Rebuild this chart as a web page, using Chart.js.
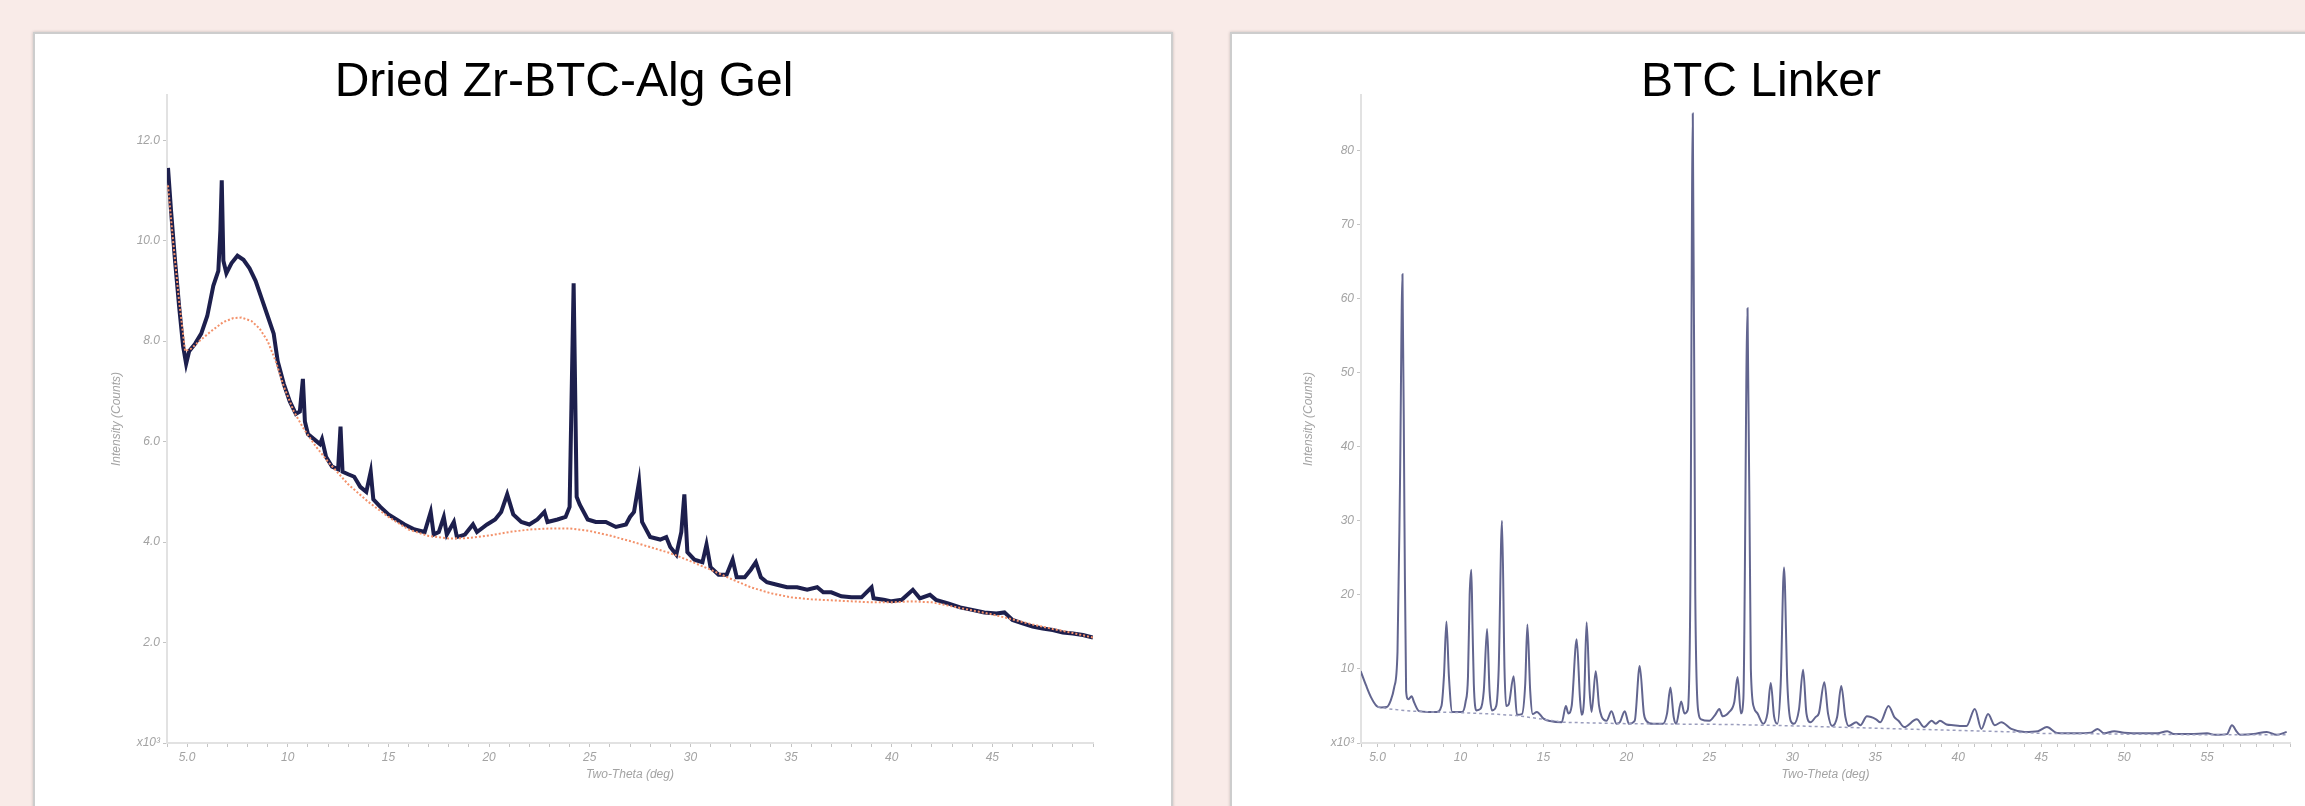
<!DOCTYPE html>
<html>
<head>
<meta charset="utf-8">
<script src="https://cdn.jsdelivr.net/npm/chart.js@4.4.1/dist/chart.umd.min.js"></script>
<style>
  html, body { margin: 0; padding: 0; }
  body { width: 2305px; height: 806px; overflow: hidden; background: #f9ebe8; position: relative; font-family: "Liberation Sans", Arial, sans-serif; }
  .panel { position: absolute; top: 32px; width: 1136px; height: 800px; background: #fff; border: 2px solid #cdcdcd; box-shadow: 0 0 3px rgba(0,0,0,0.2); }
  #leftPanel { left: 33px; }
  #rightPanel { left: 1230px; }
  canvas { display: block; }
</style>
</head>
<body>
<div class="panel" id="leftPanel"><canvas id="gelChart" width="1136" height="800"></canvas></div>
<div class="panel" id="rightPanel"><canvas id="linkerChart" width="1136" height="800"></canvas></div>
<script>
// Dried Zr-BTC-Alg Gel, measured pattern (two-theta in deg, counts in x10^3)
var gelTheta = [4.05, 4.2, 4.4, 4.6, 4.8, 4.95, 5.1, 5.4, 5.7, 6.0, 6.3, 6.55, 6.65, 6.72, 6.8, 6.95, 7.2, 7.5, 7.8, 8.1,
    8.4, 8.7, 9.0, 9.3, 9.5, 9.8, 10.1, 10.4, 10.6, 10.75, 10.85, 11.0, 11.3, 11.6, 11.7, 11.9, 12.2, 12.5, 12.62, 12.72,
    13.0, 13.3, 13.6, 13.9, 14.12, 14.25, 14.6, 15.0, 15.4, 15.8, 16.3, 16.8, 17.1, 17.25, 17.5, 17.75, 17.9, 18.25, 18.4, 18.8,
    19.2, 19.4, 19.9, 20.3, 20.6, 20.9, 21.2, 21.6, 22.0, 22.4, 22.75, 22.9, 23.4, 23.8, 24.0, 24.2, 24.35, 24.5, 24.9, 25.3,
    25.8, 26.3, 26.8, 27.0, 27.2, 27.45, 27.6, 28.0, 28.5, 28.8, 29.0, 29.3, 29.55, 29.7, 29.85, 30.2, 30.6, 30.8, 31.0, 31.4,
    31.8, 32.1, 32.3, 32.7, 33.0, 33.25, 33.5, 33.8, 34.3, 34.8, 35.3, 35.8, 36.3, 36.6, 37.0, 37.5, 38.0, 38.5, 39.0, 39.1,
    39.6, 40.0, 40.5, 41.05, 41.4, 41.9, 42.2, 42.8, 43.4, 44.0, 44.6, 45.2, 45.6, 46.0, 46.5, 47.0, 47.5, 48.0, 48.5, 49.0,
    49.5, 50.0];
var gelCounts = [11.45, 10.6, 9.6, 8.7, 7.9, 7.55, 7.8, 7.95, 8.15, 8.5, 9.1, 9.4, 10.2, 11.2, 9.6, 9.35, 9.55, 9.7, 9.62, 9.45,
    9.2, 8.85, 8.5, 8.15, 7.6, 7.15, 6.8, 6.55, 6.6, 7.25, 6.4, 6.15, 6.05, 5.95, 6.05, 5.7, 5.5, 5.45, 6.3, 5.4,
    5.35, 5.3, 5.1, 5.0, 5.4, 4.85, 4.7, 4.55, 4.45, 4.35, 4.25, 4.2, 4.6, 4.15, 4.2, 4.5, 4.15, 4.4, 4.1, 4.15,
    4.35, 4.2, 4.35, 4.45, 4.6, 4.95, 4.55, 4.4, 4.35, 4.45, 4.6, 4.4, 4.45, 4.5, 4.7, 9.15, 4.9, 4.75, 4.45, 4.4,
    4.4, 4.3, 4.35, 4.5, 4.6, 5.2, 4.4, 4.1, 4.05, 4.1, 3.9, 3.75, 4.2, 4.95, 3.8, 3.65, 3.6, 3.95, 3.5, 3.35,
    3.35, 3.65, 3.3, 3.3, 3.45, 3.6, 3.3, 3.2, 3.15, 3.1, 3.1, 3.05, 3.1, 3.0, 3.0, 2.92, 2.9, 2.9, 3.1, 2.88,
    2.85, 2.82, 2.85, 3.05, 2.88, 2.95, 2.85, 2.78, 2.7, 2.65, 2.6, 2.58, 2.6, 2.45, 2.38, 2.32, 2.28, 2.25, 2.2, 2.18,
    2.15, 2.1];
// Gel background (orange dotted)
var gelBgTheta = [4.05, 4.3, 4.6, 4.9, 5.2, 5.6, 6.2, 6.8, 7.3, 7.7, 8.2, 8.6, 9.0, 9.4, 9.8, 10.3, 10.8, 11.4, 12.0, 13.0,
    14.0, 15.0, 16.0, 17.0, 18.0, 19.0, 20.0, 21.0, 22.0, 23.0, 24.0, 25.0, 26.0, 27.0, 28.0, 29.0, 30.0, 31.0, 32.0, 33.0,
    34.0, 35.0, 36.0, 37.0, 38.0, 39.0, 40.0, 41.0, 42.0, 43.0, 44.0, 45.0, 46.0, 47.0, 48.0, 49.0, 50.0];
var gelBgCounts = [11.1, 10.0, 8.8, 7.8, 7.85, 8.0, 8.2, 8.38, 8.46, 8.47, 8.4, 8.25, 8.0, 7.6, 7.1, 6.6, 6.25, 5.9, 5.6, 5.15,
    4.8, 4.5, 4.25, 4.12, 4.07, 4.08, 4.13, 4.2, 4.25, 4.27, 4.27, 4.22, 4.13, 4.02, 3.9, 3.78, 3.62, 3.45, 3.27, 3.1,
    2.98, 2.9, 2.86, 2.84, 2.82, 2.8, 2.8, 2.82, 2.8, 2.72, 2.64, 2.56, 2.46, 2.36, 2.27, 2.19, 2.1];

// BTC Linker, measured pattern
var linkerTheta = [3.98, 4.3, 4.6, 4.94, 5.2, 5.54, 5.8, 6.0, 6.2, 6.35, 6.5, 6.62, 6.72, 6.85, 7.05, 7.2, 7.5, 8.0, 8.55, 8.85,
    9.0, 9.15, 9.3, 9.5, 10.1, 10.3, 10.45, 10.55, 10.65, 10.72, 10.8, 10.95, 11.2, 11.4, 11.6, 11.75, 11.9, 12.15, 12.3, 12.5,
    12.65, 12.75, 12.9, 13.2, 13.4, 13.7, 13.9, 14.03, 14.2, 14.35, 14.6, 15.0, 15.4, 16.1, 16.35, 16.5, 16.7, 17.0, 17.2, 17.3,
    17.45, 17.6, 17.78, 17.9, 18.15, 18.35, 18.5, 18.8, 19.1, 19.4, 19.6, 19.9, 20.15, 20.5, 20.8, 21.05, 21.2, 21.6, 22.2, 22.45,
    22.65, 22.85, 23.0, 23.3, 23.5, 23.7, 23.85, 24.0, 24.15, 24.35, 24.5, 25.0, 25.35, 25.6, 25.8, 26.2, 26.5, 26.7, 26.9, 27.05,
    27.3, 27.5, 27.7, 27.9, 28.25, 28.5, 28.7, 28.9, 29.1, 29.3, 29.5, 29.7, 29.9, 30.1, 30.4, 30.65, 30.85, 31.1, 31.4, 31.6,
    31.93, 32.15, 32.4, 32.7, 32.95, 33.2, 33.4, 33.85, 34.1, 34.5, 35.05, 35.3, 35.8, 36.15, 36.4, 36.75, 37.5, 37.95, 38.4, 38.65,
    38.9, 39.3, 39.7, 40.1, 40.5, 41.0, 41.4, 41.8, 42.2, 42.6, 43.2, 44.0, 44.8, 45.35, 45.95, 47.0, 48.0, 48.4, 48.8, 49.4,
    50.0, 51.0, 52.0, 52.6, 53.0, 54.0, 55.0, 55.5, 56.2, 56.5, 56.8, 57.0, 57.8, 58.6, 59.2, 59.8];
var linkerCounts = [9.7, 7.8, 6.2, 5.0, 4.8, 4.85, 5.8, 7.5, 12.3, 35, 63.3, 30, 7.0, 5.9, 6.3, 5.5, 4.3, 4.2, 4.2, 5.0,
    9.0, 16.4, 9.0, 4.2, 4.2, 5.5, 9.0, 20.0, 23.4, 16.0, 8.0, 4.4, 4.6, 7.0, 15.4, 7.0, 4.4, 5.0, 10.0, 30.0,
    10.0, 5.0, 5.2, 9.0, 3.8, 3.9, 8.0, 16.0, 7.0, 3.9, 4.2, 3.3, 2.96, 2.8, 5.0, 4.0, 5.0, 14.0, 6.0, 3.8,
    6.0, 16.3, 7.0, 4.2, 9.7, 5.0, 3.6, 3.0, 4.3, 2.6, 2.8, 4.3, 2.6, 3.0, 10.4, 4.0, 3.0, 2.6, 2.6, 4.0,
    7.5, 3.5, 2.6, 5.6, 4.0, 4.5, 20, 85.0, 20, 4.0, 3.2, 3.0, 3.8, 4.6, 3.6, 4.2, 5.5, 8.9, 4.0, 6,
    58.7, 10, 4.7, 4.0, 2.6, 4.0, 8.1, 3.6, 2.6, 8, 23.7, 8, 3.0, 2.6, 4.5, 9.9, 4.0, 2.8, 3.5, 4.0,
    8.2, 4.0, 2.3, 3.5, 7.7, 3.5, 2.3, 2.8, 2.4, 3.6, 3.2, 2.8, 5.0, 3.5, 3.0, 2.15, 3.2, 2.15, 3.0, 2.6,
    3.0, 2.5, 2.4, 2.3, 2.3, 4.6, 1.9, 3.9, 2.4, 2.8, 1.9, 1.5, 1.6, 2.15, 1.35, 1.3, 1.4, 1.9, 1.3, 1.6,
    1.4, 1.3, 1.3, 1.6, 1.2, 1.2, 1.3, 1.1, 1.2, 2.4, 1.5, 1.1, 1.2, 1.5, 1.1, 1.5];
// Linker background (dashed)
var linkerBgTheta = [5.0, 5.7, 7.0, 8.2, 10.0, 12.0, 13.4, 15.0, 16.2, 18.0, 20.2, 26.3, 30.3, 35.0, 40.0, 43.2, 45.0, 50.0, 55.0, 59.8];
var linkerBgCounts = [4.9, 4.6, 4.3, 4.2, 4.1, 3.9, 3.7, 3.2, 2.8, 2.7, 2.6, 2.5, 2.3, 2.0, 1.7, 1.5, 1.3, 1.2, 1.1, 1.1];

// Axis ticks
var gelYTicks = [0, 2, 4, 6, 8, 10, 12];
var linkerYTicks = [0, 10, 20, 30, 40, 50, 60, 70, 80];
var gelXRange = [4, 50];
var linkerXRange = [4, 60];

function points(xs, ys) {
    return xs.map(function (x, i) { return { x: x, y: ys[i] }; });
}

var tickFont = { family: '"Liberation Sans", Arial, sans-serif', size: 12, style: 'italic' };
var tickColor = '#a3a3a3';

function xAxis(range) {
    var degs = [];
    for (var d = range[0]; d <= range[1]; d++) degs.push(d);
    return {
        type: 'linear', min: range[0], max: range[1],
        afterBuildTicks: function (scale) { scale.ticks = degs.map(function (v) { return { value: v }; }); },
        afterFit: function (scale) { scale.height = 70; },
        grid: { drawOnChartArea: false, tickLength: 4, color: '#c4c4c4' },
        border: { color: '#e2e2e2', width: 2 },
        ticks: {
            autoSkip: false, maxRotation: 0, padding: 3, color: tickColor, font: tickFont,
            callback: function (v) {
                if (v % 5 !== 0 || v === range[1]) return '';
                return v === 5 ? '5.0' : String(v);
            }
        },
        title: { display: true, text: 'Two-Theta (deg)', color: tickColor, font: tickFont, padding: { top: 0, bottom: 31 } }
    };
}

function yAxis(ticks, max, width, titlePad, fmt) {
    return {
        type: 'linear', min: 0, max: max,
        afterBuildTicks: function (scale) { scale.ticks = ticks.map(function (v) { return { value: v }; }); },
        afterFit: function (scale) { scale.width = width; },
        grid: { drawOnChartArea: false, tickLength: 4, color: '#c4c4c4' },
        border: { color: '#e2e2e2', width: 2 },
        ticks: {
            padding: 3, color: tickColor, font: tickFont,
            callback: function (v) { return v === 0 ? 'x10\u00b3' : fmt(v); }
        },
        title: { display: true, text: 'Intensity (Counts)', color: tickColor, font: tickFont, padding: { top: titlePad, bottom: 0 } }
    };
}

function titleOpts(text) {
    return {
        display: true, text: text, color: '#000',
        font: { family: '"Liberation Sans", Arial, sans-serif', size: 48, weight: 'normal', lineHeight: 0.5 },
        padding: { top: 37, bottom: 0 }
    };
}

new Chart(document.getElementById('gelChart').getContext('2d'), {
    type: 'scatter',
    data: {
        datasets: [{
            label: 'Background',
            data: points(gelBgTheta, gelBgCounts),
            showLine: true, pointRadius: 0, borderColor: '#f3916a', borderWidth: 2, borderDash: [2, 2], order: 0
        }, {
            label: 'Dried Zr-BTC-Alg Gel',
            data: points(gelTheta, gelCounts),
            showLine: true, pointRadius: 0, borderColor: '#1d1f4d', borderWidth: 4, order: 1
        }]
    },
    options: {
        responsive: false, animation: false,
        layout: { padding: { left: 0, right: 78, top: 0, bottom: 21 } },
        plugins: { legend: { display: false }, tooltip: { enabled: false }, title: titleOpts('Dried Zr-BTC-Alg Gel') },
        scales: {
            x: xAxis(gelXRange),
            y: yAxis(gelYTicks, 12.9, 132, 74, function (v) { return v.toFixed(1); })
        }
    }
});

new Chart(document.getElementById('linkerChart').getContext('2d'), {
    type: 'scatter',
    data: {
        datasets: [{
            label: 'Background',
            data: points(linkerBgTheta, linkerBgCounts),
            showLine: true, pointRadius: 0, borderColor: '#9a9dbd', borderWidth: 1.5, borderDash: [3, 3], order: 0
        }, {
            label: 'BTC Linker',
            data: points(linkerTheta, linkerCounts),
            showLine: true, pointRadius: 0, borderColor: '#62658f', borderWidth: 2, cubicInterpolationMode: 'monotone', order: 1
        }]
    },
    options: {
        responsive: false, animation: false,
        layout: { padding: { left: 0, right: 78, top: 0, bottom: 21 } },
        plugins: { legend: { display: false }, tooltip: { enabled: false }, title: titleOpts('BTC Linker') },
        scales: {
            x: xAxis(linkerXRange),
            y: yAxis(linkerYTicks, 87.5, 129, 69, function (v) { return String(v); })
        }
    }
});
</script>
</body>
</html>
